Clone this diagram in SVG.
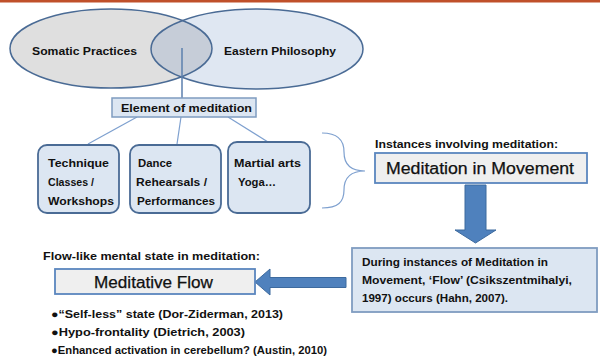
<svg xmlns="http://www.w3.org/2000/svg" width="600" height="358" viewBox="0 0 600 358">
<defs>
<style>
.t{font-family:"Liberation Sans",Arial,sans-serif;font-weight:bold;font-size:11px;fill:#111}
.big{font-family:"Liberation Sans",Arial,sans-serif;font-size:16px;fill:#111;stroke:#111;stroke-width:0.25}
.box{fill:#dce6f2;stroke:#4a6b95;stroke-width:1.8}
.gbox{fill:#efefef;stroke:#5a86be;stroke-width:1.8}
.conn{stroke:#7ea0cf;stroke-width:1.2;fill:none}
.arrow{fill:#4f81bd;stroke:#3d6a9e;stroke-width:1}
</style>
<clipPath id="clipL"><ellipse cx="111" cy="48.5" rx="101" ry="39.5"/></clipPath>
</defs>
<rect width="600" height="358" fill="#fff"/>
<rect x="0" y="0" width="600" height="2.5" fill="#c0502a"/>

<g id="venn">
<ellipse cx="111" cy="48.5" rx="101" ry="39.5" fill="#dfdfdf"/>
<ellipse cx="257" cy="49" rx="106" ry="40" fill="#dfe7f2"/>
<ellipse cx="257" cy="49" rx="106" ry="40" fill="#c6cdd8" clip-path="url(#clipL)"/>
<ellipse cx="111" cy="48.5" rx="101" ry="39.5" fill="none" stroke="#4a6b95" stroke-width="1.5"/>
<ellipse cx="257" cy="49" rx="106" ry="40" fill="none" stroke="#4a6b95" stroke-width="1.5"/>
</g>
<g id="somatic"><text class="t" x="32" y="55" textLength="105" lengthAdjust="spacingAndGlyphs">Somatic Practices</text></g>
<g id="eastern"><text class="t" x="224" y="55" textLength="112" lengthAdjust="spacingAndGlyphs">Eastern Philosophy</text></g>

<g id="connectors">
<line x1="182" y1="48" x2="182" y2="98" stroke="#5b7fae" stroke-width="1.5"/>
<line class="conn" x1="137" y1="117" x2="88" y2="144"/>
<line class="conn" x1="181" y1="117" x2="177" y2="144"/>
<line class="conn" x1="228" y1="117" x2="268" y2="142"/>
<path class="conn" d="M322,133 C338,133 344,140 344,152 C344,164 350,171 365,171 C350,171 344,178 344,190 C344,202 338,208 322,208"/>
<polygon class="arrow" points="465,185 486,185 486,230 496,230 475.5,243 455,230 465,230"/>
<polygon class="arrow" points="346,277.5 346,287.5 270,287.5 270,295 255,282 270,269 270,277.5"/>
</g>

<g id="element">
<rect x="112" y="98" width="144" height="19" fill="#dce6f2" stroke="#7f9cc0" stroke-width="1.5"/>
<text class="t" x="121" y="112" textLength="131" lengthAdjust="spacingAndGlyphs">Element of meditation</text>
</g>

<g id="technique">
<rect class="box" x="38" y="145" width="81" height="68" rx="9"/>
<text class="t" x="48" y="167" textLength="61" lengthAdjust="spacingAndGlyphs">Technique</text>
<text class="t" x="48" y="186" textLength="46" lengthAdjust="spacingAndGlyphs">Classes /</text>
<text class="t" x="48" y="205" textLength="66" lengthAdjust="spacingAndGlyphs">Workshops</text>
</g>

<g id="dance">
<rect class="box" x="130" y="145" width="91" height="68" rx="9"/>
<text class="t" x="138" y="167" textLength="34" lengthAdjust="spacingAndGlyphs">Dance</text>
<text class="t" x="136" y="186" textLength="71" lengthAdjust="spacingAndGlyphs">Rehearsals /</text>
<text class="t" x="137" y="205" textLength="78" lengthAdjust="spacingAndGlyphs">Performances</text>
</g>

<g id="martial">
<rect class="box" x="228" y="142" width="82" height="71" rx="9"/>
<text class="t" x="234" y="167" textLength="67" lengthAdjust="spacingAndGlyphs">Martial arts</text>
<text class="t" x="238" y="186" textLength="38" lengthAdjust="spacingAndGlyphs">Yoga…</text>
</g>

<g id="movement">
<text class="t" x="375" y="148" textLength="183" lengthAdjust="spacingAndGlyphs">Instances involving meditation:</text>
<rect class="gbox" x="375" y="153" width="212" height="30"/>
<text class="big" x="386" y="174" textLength="188" lengthAdjust="spacingAndGlyphs">Meditation in Movement</text>
</g>

<g id="during">
<rect x="352" y="248" width="245" height="64" fill="#dce6f2" stroke="#7f9cc0" stroke-width="1.8"/>
<text class="t" x="362" y="266" textLength="186" lengthAdjust="spacingAndGlyphs">During instances of Meditation in</text>
<text class="t" x="362" y="284" textLength="210" lengthAdjust="spacingAndGlyphs">Movement, ‘Flow’ (Csikszentmihalyi,</text>
<text class="t" x="362" y="302" textLength="146" lengthAdjust="spacingAndGlyphs">1997) occurs (Hahn, 2007).</text>
</g>

<g id="flow">
<text class="t" x="43" y="260" textLength="217" lengthAdjust="spacingAndGlyphs">Flow-like mental state in meditation:</text>
<rect class="gbox" x="55" y="269" width="200" height="25"/>
<text class="big" x="94" y="288" textLength="119" lengthAdjust="spacingAndGlyphs">Meditative Flow</text>
</g>

<g id="bullets">
<text class="t" x="51" y="318" textLength="232" lengthAdjust="spacingAndGlyphs">●“Self-less” state (Dor-Ziderman, 2013)</text>
<text class="t" x="51" y="336" textLength="194" lengthAdjust="spacingAndGlyphs">●Hypo-frontality (Dietrich, 2003)</text>
<text class="t" x="51" y="354" textLength="276" lengthAdjust="spacingAndGlyphs">●Enhanced activation in cerebellum? (Austin, 2010)</text>
</g>
</svg>
